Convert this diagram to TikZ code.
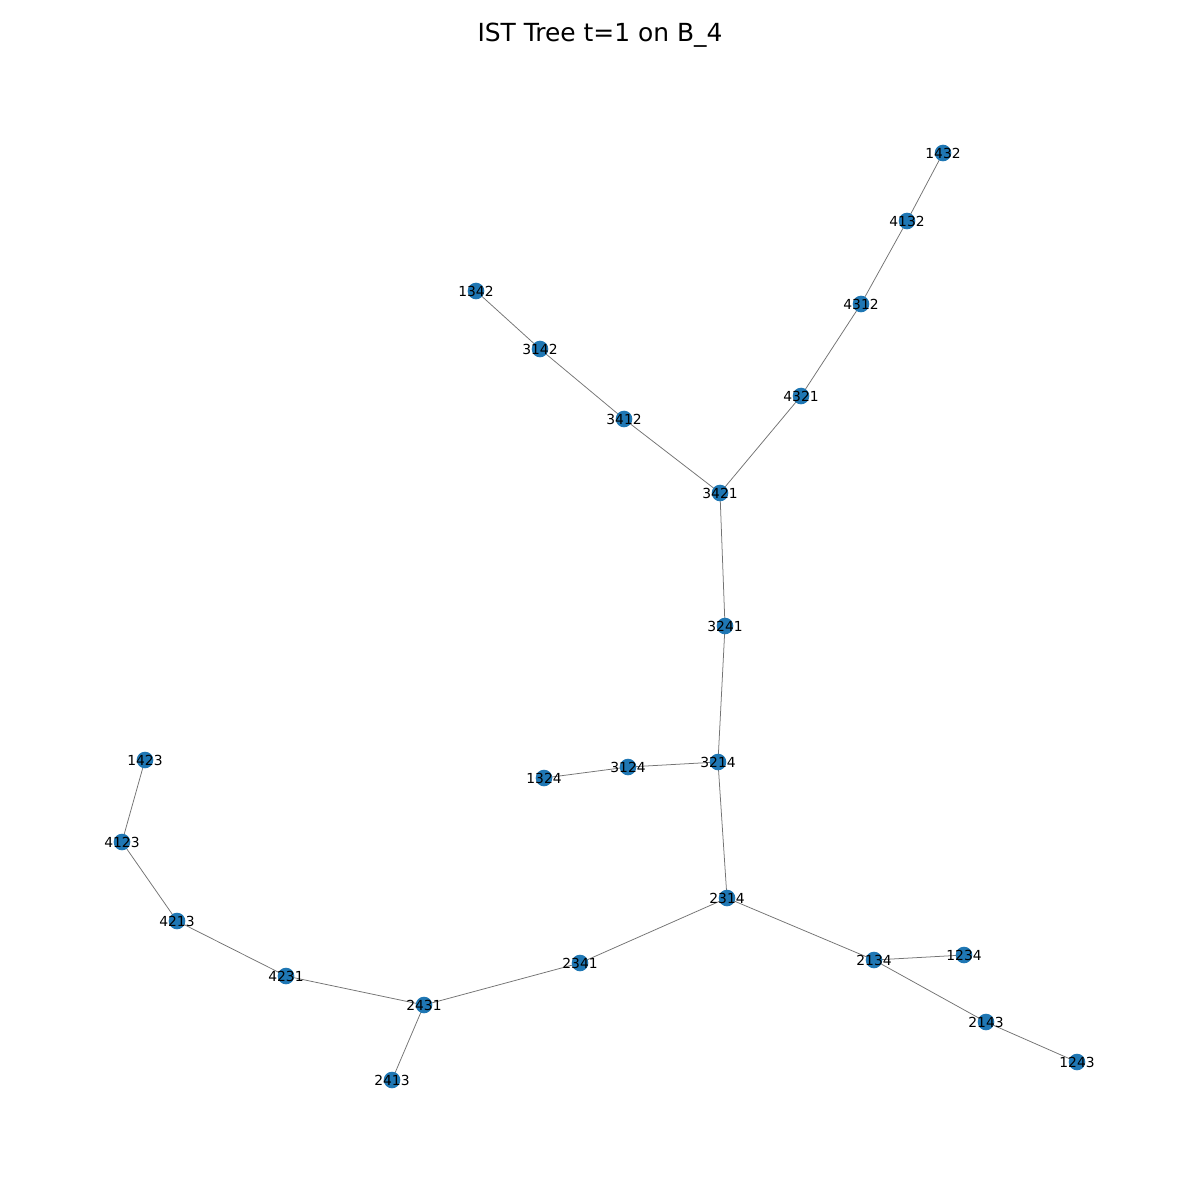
\documentclass[tikz,border=0pt]{standalone}
\usepackage{fontspec}
\setmainfont{DejaVu Sans}
\usetikzlibrary{backgrounds}
\definecolor{mplBlue}{HTML}{1F77B4}
\tikzset{
  every node/.style={font=\fontsize{10pt}{12pt}\selectfont},
  permnode/.style={circle, fill=mplBlue, draw=none, minimum size=12pt, inner sep=0pt,
    label={[inner sep=0pt, text=black]center:#1}},
  treeedge/.style={draw=black!55, line width=0.55pt},
  titleline/.style={font=\fontsize{18pt}{22pt}\selectfont},
}

\begin{document}
\begin{tikzpicture}[x=0.01in,y=-0.01in]
  \useasboundingbox (0,0) rectangle (1200,1200);
  \node[titleline] (title) at (600,35) {IST Tree t=1 on B\_4};

  % vertices, placed as in the layout
  \foreach \p/\x/\y in {1432/943/153, 4132/907/221, 4312/861/304, 4321/801/396,
      1342/476/291, 3142/540/349, 3412/624/419, 3421/720/493,
      3241/725/626, 3214/718/762, 3124/628/767, 1324/544/778,
      1423/145/760, 4123/122/842, 4213/177/921, 4231/286/976,
      2431/424/1005, 2413/392/1080, 2341/580/963, 2314/727/898,
      2134/874/960, 1234/964/955, 2143/986/1022, 1243/1077/1062}
    {\node[permnode=\p] (n\p) at (\x,\y) {};}

  % tree edges
  \begin{scope}[on background layer]
    \foreach \a/\b in {1432/4132, 4132/4312, 4312/4321, 4321/3421,
        1342/3142, 3142/3412, 3412/3421, 3421/3241, 3241/3214,
        3214/3124, 3124/1324, 3214/2314, 2314/2341, 2341/2431,
        2431/4231, 2431/2413, 4231/4213, 4213/4123, 4123/1423,
        2314/2134, 2134/1234, 2134/2143, 2143/1243}
      {\draw[treeedge] (n\a.center) -- (n\b.center);}
  \end{scope}
\end{tikzpicture}
\end{document}
